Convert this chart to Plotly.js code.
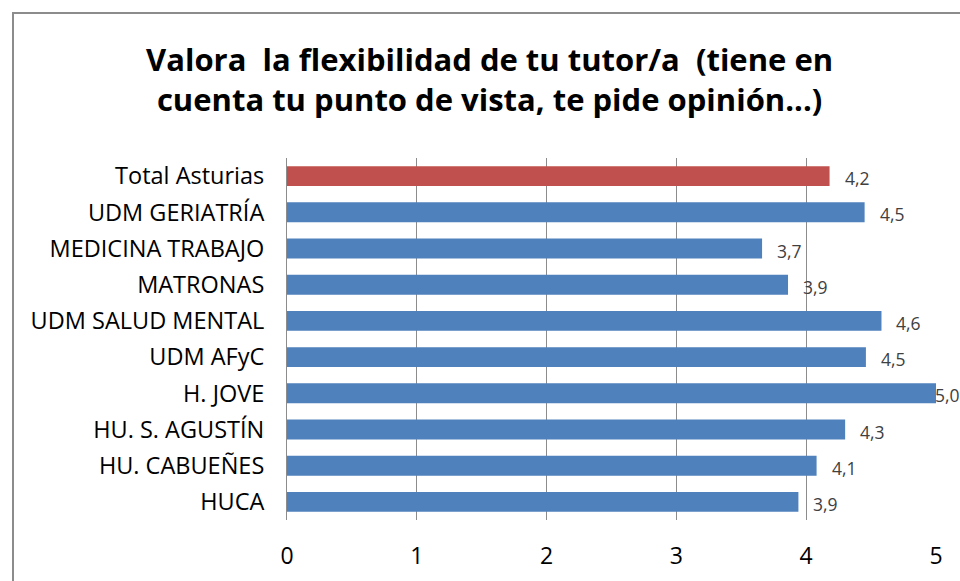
<!DOCTYPE html>
<html>
<head>
<meta charset="utf-8">
<script src="https://cdn.plot.ly/plotly-3.0.1.min.js"></script>
<style>
  html, body { margin: 0; padding: 0; background: #fff; }
  #wrap { position: relative; width: 960px; height: 581px; overflow: hidden; }
  #chart { position: absolute; left: 0; top: 0; width: 960px; height: 581px; }
  #frame { position: absolute; left: 12px; top: 12px; width: 1000px; height: 700px;
           border-top: 2px solid #8c8c8c; border-left: 2px solid #8c8c8c; pointer-events: none; }
</style>
</head>
<body>
<div id="wrap">
  <div id="chart"></div>
  <div id="frame"></div>
</div>
<script>
const categories = ["Total Asturias", "UDM GERIATRÍA", "MEDICINA TRABAJO", "MATRONAS",
  "UDM SALUD MENTAL", "UDM AFyC", "H. JOVE", "HU. S. AGUSTÍN", "HU. CABUEÑES", "HUCA"];
const values = [4.18, 4.45, 3.66, 3.86, 4.58, 4.46, 5.0, 4.30, 4.08, 3.94];
const valueLabels = ["4,2", "4,5", "3,7", "3,9", "4,6", "4,5", "5,0", "4,3", "4,1", "3,9"];
const tickValues = [0, 1, 2, 3, 4, 5];
const tickLabels = ["0", "1", "2", "3", "4", "5"];

const barColors = categories.map(c => c === "Total Asturias" ? "#C0504D" : "#4F81BD");
const font = "'Open Sans', sans-serif";

const trace = {
  type: "bar",
  orientation: "h",
  y: categories,
  x: values,
  marker: { color: barColors, line: { width: 0 } },
  width: 0.55,
  hoverinfo: "x+y"
};

const xMax = Math.max(...tickValues);
const annotations = categories.map((c, i) => ({
  x: values[i], y: c, xref: "x", yref: "y",
  text: valueLabels[i], showarrow: false,
  xanchor: "left", yanchor: "middle",
  xshift: values[i] >= xMax ? -3 : 13, yshift: -2,
  font: { family: font, size: 17.5, color: "#404040" }
}));

const layout = {
  width: 960, height: 581,
  margin: { l: 287, r: 24, t: 158, b: 61 },
  paper_bgcolor: "rgba(0,0,0,0)",
  plot_bgcolor: "#fff",
  showlegend: false,
  annotations: annotations,
  title: {
    text: "<b>Valora  la flexibilidad de tu tutor/a  (tiene en<br>cuenta tu punto de vista, te pide opinión...)</b>",
    font: { family: font, size: 31, color: "#000" },
    x: 0.51, xanchor: "center",
    y: 1 - 71 / 581, yanchor: "middle"
  },
  xaxis: {
    range: [0, 5],
    tickvals: tickValues,
    ticktext: tickLabels,
    showgrid: true, gridcolor: "#8c8c8c", gridwidth: 1,
    zeroline: false, showline: false,
    ticks: "outside", ticklen: 15, tickcolor: "rgba(0,0,0,0)",
    tickfont: { family: font, size: 23, color: "#000" },
    fixedrange: true
  },
  yaxis: {
    autorange: "reversed",
    type: "category",
    showgrid: false, zeroline: false,
    showline: true, linecolor: "#8c8c8c", linewidth: 1,
    ticks: "outside", ticklen: 17, tickcolor: "rgba(0,0,0,0)",
    tickfont: { family: font, size: 23.5, color: "#000" },
    fixedrange: true
  }
};

Plotly.newPlot("chart", [trace], layout, { displayModeBar: false, staticPlot: true });
</script>
</body>
</html>
